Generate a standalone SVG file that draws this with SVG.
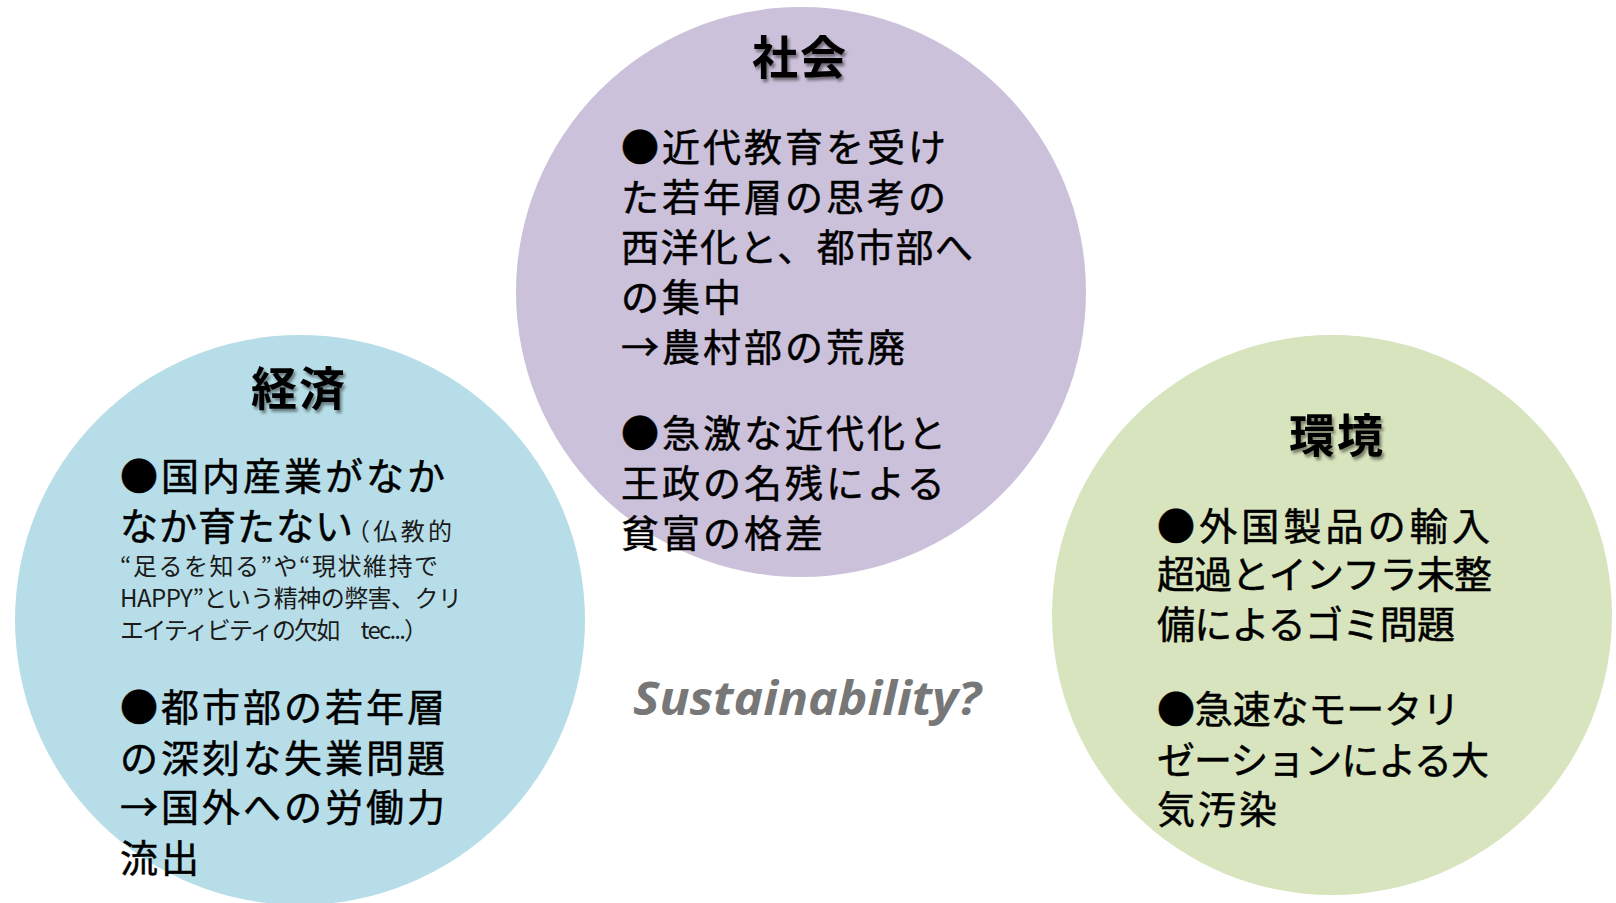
<svg xmlns="http://www.w3.org/2000/svg" width="1616" height="903" viewBox="0 0 1616 903">
  <defs>
    <filter id="shadow" x="-20%" y="-20%" width="140%" height="150%">
      <feDropShadow dx="2" dy="3" stdDeviation="1.5" flood-color="#000" flood-opacity="0.45"/>
    </filter>
    <style>
      .title { font-family: "Noto Sans CJK JP", sans-serif; font-weight: 700; font-size: 46px; letter-spacing: 2px; fill: #000; text-anchor: middle; }
      .body { font-family: "Noto Sans CJK JP", sans-serif; font-weight: 400; font-size: 38px; letter-spacing: 3px; fill: #000; stroke: #000; stroke-width: 0.5px; }
      .small { font-family: "Noto Sans CJK JP", sans-serif; font-weight: 400; font-size: 24px; letter-spacing: 0px; fill: #1a1a1a; }
      .q { font-family: "Open Sans", "Liberation Sans", sans-serif; font-weight: 700; font-style: italic; font-size: 46px; fill: #777777; }
    </style>
  </defs>
  <rect width="1616" height="903" fill="#ffffff"/>

  <g id="shakai">
    <circle cx="801" cy="292" r="285" fill="#ccc1da"/>
    <text class="title" x="800" y="74" filter="url(#shadow)">社会</text>
    <text class="body" x="621" y="161">●近代教育を受け</text>
    <text class="body" x="621" y="211">た若年層の思考の</text>
    <text class="body" x="621" y="261" textLength="355">西洋化と、都市部へ</text>
    <text class="body" x="621" y="311">の集中</text>
    <text class="body" x="621" y="361">→農村部の荒廃</text>
    <text class="body" x="621" y="447">●急激な近代化と</text>
    <text class="body" x="621" y="497">王政の名残による</text>
    <text class="body" x="621" y="547">貧富の格差</text>
  </g>

  <g id="keizai">
    <circle cx="300" cy="620" r="285" fill="#b7dee8"/>
    <text class="title" x="299" y="405" filter="url(#shadow)">経済</text>
    <text class="body" x="120" y="490">●国内産業がなか</text>
    <text class="body" x="120" y="540" textLength="236">なか育たない</text>
    <text class="small" x="346" y="540" textLength="106">（仏教的</text>
    <text class="small" x="120" y="575" textLength="318">“足るを知る”や“現状維持で</text>
    <text class="small" x="120" y="607" textLength="342">HAPPY”という精神の弊害、クリ</text>
    <text class="small" x="120" y="639" textLength="308">エイティビティの欠如　tec...）</text>
    <text class="body" x="120" y="721">●都市部の若年層</text>
    <text class="body" x="120" y="772">の深刻な失業問題</text>
    <text class="body" x="120" y="821">→国外への労働力</text>
    <text class="body" x="120" y="872">流出</text>
  </g>

  <g id="kankyo">
    <circle cx="1332" cy="615" r="280" fill="#d7e4bd"/>
    <text class="title" x="1337" y="452" filter="url(#shadow)">環境</text>
    <text class="body" x="1157" y="540" textLength="336">●外国製品の輸入</text>
    <text class="body" x="1157" y="588" textLength="338">超過とインフラ未整</text>
    <text class="body" x="1157" y="638" textLength="301">備によるゴミ問題</text>
    <text class="body" x="1157" y="723" textLength="306">●急速なモータリ</text>
    <text class="body" x="1157" y="774" textLength="335">ゼーションによる大</text>
    <text class="body" x="1157" y="823">気汚染</text>
  </g>

  <g id="center-label">
    <text class="q" x="633" y="715" textLength="348" lengthAdjust="spacingAndGlyphs">Sustainability?</text>
  </g>
</svg>
